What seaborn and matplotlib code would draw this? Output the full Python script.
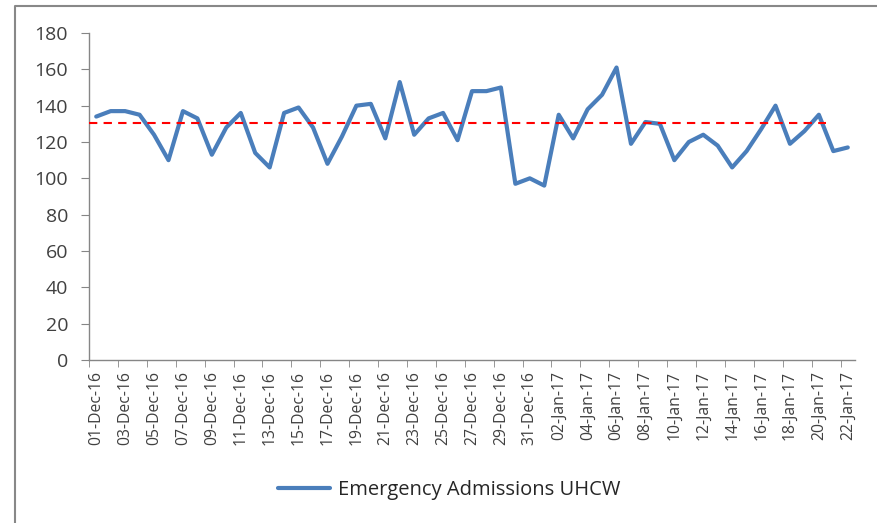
import matplotlib.pyplot as plt
import seaborn as sns
import pandas as pd
from matplotlib.lines import Line2D

# Daily emergency admissions, 01-Dec-16 .. 22-Jan-17
dates = pd.date_range('2016-12-01', '2017-01-22', freq='D')
admissions = [134, 137, 137, 135, 124, 110, 137, 133, 113, 128,
              136, 114, 106, 136, 139, 128, 108, 123, 140, 141,
              122, 153, 124, 133, 136, 121, 148, 148, 150, 97,
              100, 96, 135, 122, 138, 146, 161, 119, 131, 130,
              110, 120, 124, 118, 106, 115, 127, 140, 119, 126,
              135, 115, 117]
average = 130.5
series_name = 'Emergency Admissions UHCW'

df = pd.DataFrame({'day': range(len(dates)),
                   'label': dates.strftime('%d-%b-%y'),
                   'admissions': admissions})

sns.set_style('white')
plt.rcParams['font.family'] = ['Open Sans', 'DejaVu Sans']

fig = plt.figure(figsize=(8.77, 5.23), dpi=100)
ax = fig.add_axes([89 / 877, 1 - 360 / 523, (855 - 89) / 877, (360 - 33) / 523])

sns.lineplot(data=df, x='day', y='admissions', ax=ax, color='#4A7EBB',
             linewidth=3.0, label=series_name, legend=False)
ax.hlines(average, -0.5, 50.5, colors='#FF0000', linestyles=(0, (4, 3)),
          linewidth=1.5, zorder=3)

ax.set_xlim(-0.5, len(df) - 0.5)
ax.set_ylim(0, 180)
ax.set_yticks(range(0, 181, 20))
ax.tick_params(axis='y', labelsize=14, length=6, color='#868686',
               direction='out', left=True, pad=9, labelcolor='#404040')

# labels every two days, tick marks between categories
ax.set_xticks(df['day'][::2])
ax.set_xticklabels(df['label'][::2], rotation=90, fontsize=11.3, color='#404040')
ax.tick_params(axis='x', which='major', length=0, pad=8)
ax.set_xticks([d - 0.5 for d in df['day'][::2]][:-1] + [51.5], minor=True)
ax.tick_params(axis='x', which='minor', length=5, color='#868686',
               direction='out', bottom=True)
ax.set_xlabel('')
ax.set_ylabel('')

for side in ['top', 'right']:
    ax.spines[side].set_visible(False)
for side in ['left', 'bottom']:
    ax.spines[side].set_color('#868686')
    ax.spines[side].set_linewidth(1)

handles, labels = ax.get_legend_handles_labels()
fig.legend(handles, labels, loc='center', bbox_to_anchor=(449 / 877, 1 - 490 / 523),
           frameon=False, fontsize=14.5, handlelength=2.6, handletextpad=0.4,
           labelcolor='#262626')

# chart-area border (top and left edges visible in the reference)
fig.add_artist(Line2D([15.5 / 877, 15.5 / 877, 1], [0, 1 - 6 / 523, 1 - 6 / 523],
                      transform=fig.transFigure, color='#888888', linewidth=1.5))

fig.savefig('out.png', dpi=100)
